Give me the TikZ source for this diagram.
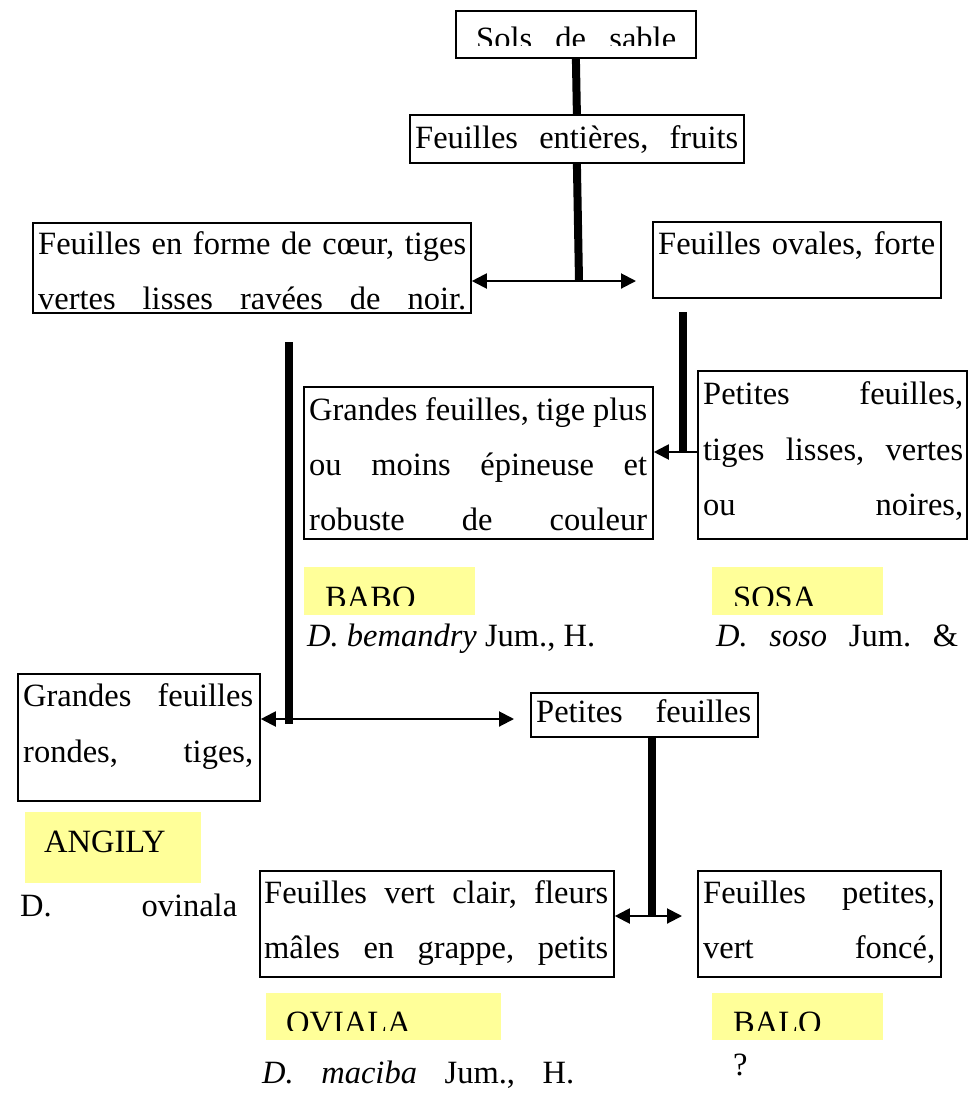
\documentclass[tikz,border=0pt]{standalone}
\usepackage{fontspec}
\setmainfont{Liberation Serif}
\usetikzlibrary{arrows.meta,calc}
\definecolor{hl}{RGB}{255,255,153}
\frenchspacing
\newcommand\jline[4]{\node[txt] (#1) at (#2) {\makebox[#3pt][s]{#4}};}
\begin{document}
\begin{tikzpicture}[x=1pt,y=-1pt,
  box/.style={draw=black,line width=1.8pt,inner sep=0pt,anchor=north west},
  hlbox/.style={fill=hl,inner sep=0pt,anchor=north west},
  txt/.style={anchor=base west,inner sep=0pt,font=\fontsize{32.5}{39}\selectfont},
  trunk/.style={line width=8pt},
  link/.style={line width=2pt,-{Triangle[length=15pt,width=15pt]}},
  blink/.style={line width=2pt,{Triangle[length=15pt,width=15pt]}-{Triangle[length=15pt,width=15pt]}}]
\useasboundingbox (0,0) rectangle (979,1096);
\fill[white] (0,0) rectangle (979,1096);
% boxes
\node[box,minimum width=240pt,minimum height=47pt] (sols) at (455,10) {};
\node[box,minimum width=334pt,minimum height=48pt] (entieres) at (409,114) {};
\node[box,minimum width=438pt,minimum height=90pt] (coeur) at (32,222) {};
\node[box,minimum width=288pt,minimum height=76pt] (ovales) at (652,221) {};
\node[box,minimum width=349pt,minimum height=152pt] (grandes) at (303,386) {};
\node[box,minimum width=269pt,minimum height=168pt] (petites) at (697,370) {};
\node[box,minimum width=242pt,minimum height=127pt] (rondes) at (17,673) {};
\node[box,minimum width=227pt,minimum height=44pt] (pf) at (530,692) {};
\node[box,minimum width=354pt,minimum height=106pt] (clair) at (259,870) {};
\node[box,minimum width=243pt,minimum height=106pt] (fonce) at (697,870) {};
% highlights
\node[hlbox,minimum width=171pt,minimum height=48pt] (babo) at (304,567) {};
\node[hlbox,minimum width=171pt,minimum height=48pt] (sosa) at (712,567) {};
\node[hlbox,minimum width=176pt,minimum height=71pt] (angily) at (25,812) {};
\node[hlbox,minimum width=235pt,minimum height=47pt] (oviala) at (266,993) {};
\node[hlbox,minimum width=171pt,minimum height=47pt] (balo) at (712,993) {};
% texts
\begin{scope}\clip (455,10) rectangle (695,45);
\jline{tsols}{476,49}{200}{Sols de sable}
\end{scope}
\jline{tent}{415,148}{323}{Feuilles entières, fruits}
\jline{tco1}{38,254}{428}{Feuilles en forme de cœur, tiges}
\jline{tco2}{38,309}{428}{vertes lisses ravées de noir.}
\jline{tov1}{658,254}{277}{Feuilles ovales, forte}
\jline{tgr1}{309,420}{338}{Grandes feuilles, tige plus}
\jline{tgr2}{309,475}{338}{ou moins épineuse et}
\jline{tgr3}{309,530}{338}{robuste de couleur}
\jline{tpe1}{703,404}{260}{Petites feuilles,}
\jline{tpe2}{703,460}{260}{tiges lisses, vertes}
\jline{tpe3}{703,515}{260}{ou noires,}
\begin{scope}\clip (304,567) rectangle (475,605);
\node[txt] (tbabo) at (325,608) {BABO};
\end{scope}
\node[txt] (tbem) at (307,646) {\textit{D. bemandry} Jum., H.};
\begin{scope}\clip (712,567) rectangle (883,605);
\node[txt] (tsosa) at (733,608) {SOSA};
\end{scope}
\jline{tsoso}{716,646}{242}{\textit{D.} \textit{soso} Jum. \&}
\jline{tro1}{23,706}{230}{Grandes feuilles}
\jline{tro2}{23,762}{230}{rondes, tiges,}
\jline{tpf}{536,722}{215}{Petites feuilles}
\node[txt] (tang) at (44,852) {ANGILY};
\jline{tovi}{20,916}{217}{D. ovinala}
\jline{tcl1}{264,903}{344}{Feuilles vert clair, fleurs}
\jline{tcl2}{264,958}{344}{mâles en grappe, petits}
\jline{tfo1}{703,903}{232}{Feuilles petites,}
\jline{tfo2}{703,958}{232}{vert foncé,}
\begin{scope}\clip (266,993) rectangle (501,1030);
\node[txt] (tovl) at (286,1033) {OVIALA};
\end{scope}
\begin{scope}\clip (712,993) rectangle (883,1030);
\node[txt] (tbalo) at (733,1033) {BALO};
\end{scope}
\jline{tmac}{262,1083}{312}{\textit{D.} \textit{maciba} Jum., H.}
\node[txt] (tq) at (733,1075) {?};
% connectors
\coordinate (j1) at (579,281);
\coordinate (j1r) at (636,281);
\draw[trunk] (sols.south) -- (entieres.north);
\draw[trunk] (entieres.south) -- (j1);
\draw[blink] (coeur.east |- j1) -- (j1r);
\coordinate (j2t) at (683,312);
\coordinate (j2) at (683,452);
\draw[trunk] (j2t) -- (j2);
\draw[link] (petites.west |- j2) -- (grandes.east |- j2);
\coordinate (j3t) at (289,342);
\coordinate (j3) at (289,724);
\coordinate (j3r) at (514,719);
\draw[trunk] (j3t) -- (j3);
\draw[blink] (rondes.east |- j3r) -- (j3r);
\coordinate (j4) at (652,916);
\coordinate (j4r) at (682,916);
\draw[trunk] (pf.south -| j4) -- (j4);
\draw[blink] (clair.east |- j4) -- (j4r);
\end{tikzpicture}
\end{document}
